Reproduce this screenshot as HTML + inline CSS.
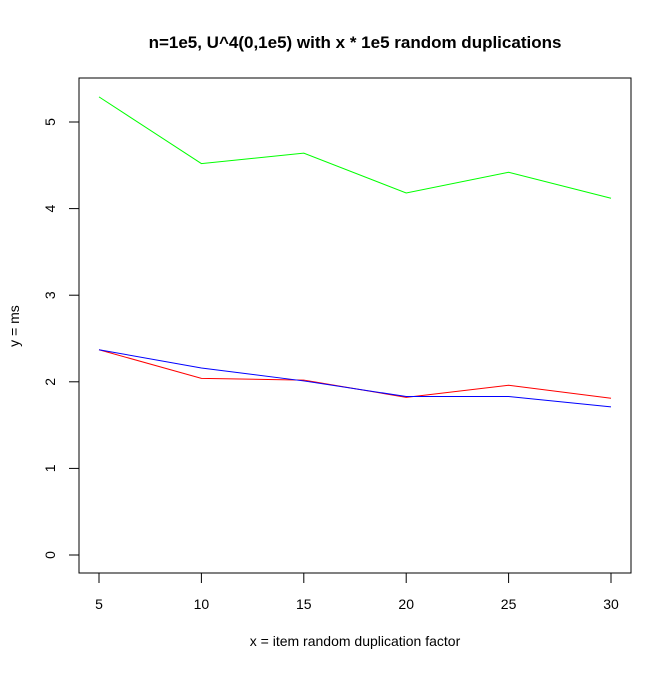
<!DOCTYPE html>
<html><head><meta charset="utf-8"><style>
body{margin:0;background:#fff}
svg text{font-family:"Liberation Sans",sans-serif;fill:#000}
</style></head><body>
<svg width="672" height="672" viewBox="0 0 672 672" id="chart">
<rect width="672" height="672" fill="#fff"/>
<text x="355" y="48" font-size="17" font-weight="bold" text-anchor="middle">n=1e5, U^4(0,1e5) with x * 1e5 random duplications</text>
<rect x="79" y="78" width="552" height="495" fill="none" stroke="#000" stroke-width="1"/>
<text x="355" y="646" font-size="14" text-anchor="middle">x = item random duplication factor</text>
<text transform="translate(19,326) rotate(-90)" font-size="14" text-anchor="middle">y = ms</text>
<g id="axes"></g>
<g id="series"></g>
</svg>
<script>
const categories=[5,10,15,20,25,30];
const greenValues=[5.29,4.52,4.64,4.18,4.42,4.12];
const redValues=[2.37,2.04,2.02,1.82,1.96,1.81];
const blueValues=[2.37,2.16,2.01,1.83,1.83,1.71];
const xTicks=[5,10,15,20,25,30];
const yTicks=[0,1,2,3,4,5];
const NS="http://www.w3.org/2000/svg";
function xs(v){return 99+(v-5)*512/25;}
function ys(v){return 555-v*86.6;}
const axes=document.getElementById('axes');
function mk(tag,attrs,parent){const e=document.createElementNS(NS,tag);for(const k in attrs)e.setAttribute(k,attrs[k]);parent.appendChild(e);return e;}
const xa=mk('line',{x1:xs(5),x2:xs(30),y1:573,y2:573,stroke:'#000'},axes);


xTicks.forEach(t=>{
  const l=mk('line',{x1:xs(t),x2:xs(t),y1:573,y2:583,stroke:'#000'},axes);
  
  
  const tx=mk('text',{x:xs(t),y:609,'font-size':14,'text-anchor':'middle'},axes);
  tx.textContent=t;
  
  
});
const ya=mk('line',{x1:79,x2:79,y1:ys(0),y2:ys(5),stroke:'#000'},axes);


yTicks.forEach(t=>{
  const l=mk('line',{x1:69,x2:79,y1:ys(t),y2:ys(t),stroke:'#000'},axes);
  
  
  const tx=mk('text',{transform:`translate(55,${ys(t)}) rotate(-90)`,'font-size':14,'text-anchor':'middle'},axes);
  tx.textContent=t;
  
  
});
const series=document.getElementById('series');
[[greenValues,'#00ff00','green-series-line'],[redValues,'#ff0000','red-series-line'],[blueValues,'#0000ff','blue-series-line']].forEach(([vals,col,name])=>{
  const p=mk('polyline',{points:vals.map((v,i)=>xs(categories[i])+','+ys(v)).join(' '),fill:'none',stroke:col,'stroke-width':1},series);
  
  
});
</script>
</body></html>
